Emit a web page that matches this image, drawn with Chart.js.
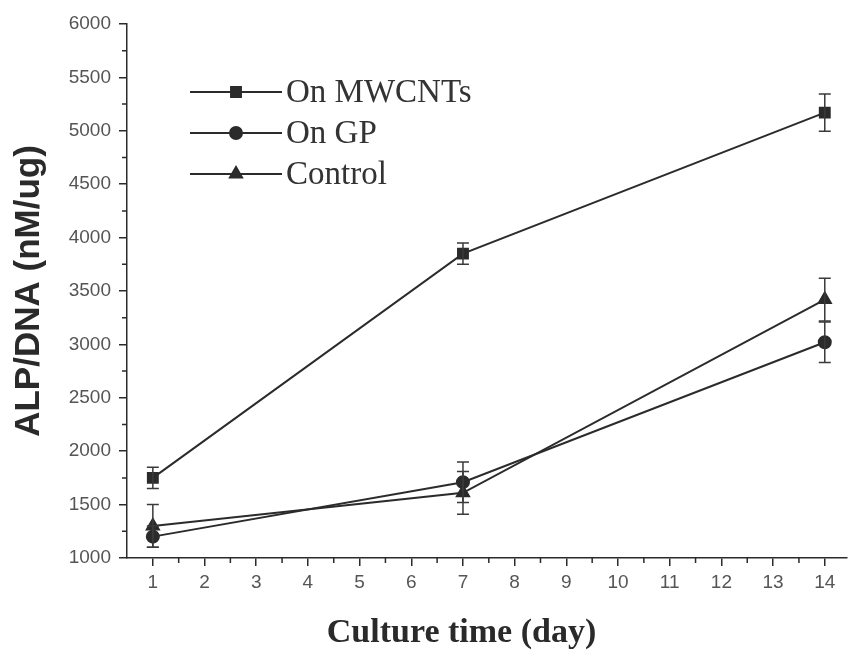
<!DOCTYPE html>
<html>
<head>
<meta charset="utf-8">
<script src="https://cdn.jsdelivr.net/npm/chart.js@4"></script>
<style>
  html, body { margin: 0; padding: 0; background: #fff; }
  #wrap { width: 856px; height: 650px; }
</style>
</head>
<body>
<div id="wrap"><canvas id="chart" width="856" height="650"></canvas></div>
<script>
// ------------------------ Datos ------------------------
const dias = [1, 7, 14];
const seriesNames = ["On MWCNTs", "On GP", "Control"];
const mwcnts = [1750, 3850, 5170];
const mwcntsErr = [100, 100, 175];
const gp = [1200, 1710, 3020];
const gpErr = [100, 190, 190];
const control = [1300, 1610, 3420];
const controlErr = [200, 200, 200];
const xTicks = [1, 2, 3, 4, 5, 6, 7, 8, 9, 10, 11, 12, 13, 14];
const markers = ["rect", "circle", "triangle"];
const markerSize = [7, 6, 7];

const ink = "#2b2b2b";

const toPoints = vals => vals.map((y, i) => ({ x: dias[i], y }));

// ------------------------ Plugins ------------------------
// barras de error
const errorBars = {
  id: "errorBars",
  afterDatasetsDraw(chart) {
    const { ctx, scales: { x, y } } = chart;
    const errs = [mwcntsErr, gpErr, controlErr];
    ctx.save();
    ctx.strokeStyle = "#3a3a3a";
    ctx.lineWidth = 1.5;
    chart.data.datasets.forEach((ds, i) => {
      ds.data.forEach((p, j) => {
        const px = x.getPixelForValue(p.x);
        const top = y.getPixelForValue(p.y + errs[i][j]);
        const bot = y.getPixelForValue(p.y - errs[i][j]);
        ctx.beginPath();
        ctx.moveTo(px, top); ctx.lineTo(px, bot);
        ctx.moveTo(px - 6, top); ctx.lineTo(px + 6, top);
        ctx.moveTo(px - 6, bot); ctx.lineTo(px + 6, bot);
        ctx.stroke();
      });
    });
    ctx.restore();
  }
};

// ticks menores (x cada 0.5, y cada 250)
const minorTicks = {
  id: "minorTicks",
  afterDraw(chart) {
    const { ctx, scales: { x, y } } = chart;
    ctx.save();
    ctx.strokeStyle = ink;
    ctx.lineWidth = 1.5;
    ctx.beginPath();
    for (let v = 1.5; v < 14; v += 1) {
      const px = x.getPixelForValue(v);
      ctx.moveTo(px, y.bottom); ctx.lineTo(px, y.bottom + 5);
    }
    for (let v = 1250; v < 6000; v += 500) {
      const py = y.getPixelForValue(v);
      ctx.moveTo(x.left, py); ctx.lineTo(x.left - 5, py);
    }
    ctx.stroke();
    ctx.restore();
  }
};

// leyenda dentro del área
const insideLegend = {
  id: "insideLegend",
  afterDraw(chart) {
    const { ctx } = chart;
    ctx.save();
    ctx.font = "33px 'Liberation Serif', 'Times New Roman', serif";
    ctx.textBaseline = "middle";
    chart.data.datasets.forEach((ds, i) => {
      const yy = 92 + i * 41;
      ctx.strokeStyle = ink;
      ctx.lineWidth = 2;
      ctx.beginPath();
      ctx.moveTo(190, yy); ctx.lineTo(282, yy);
      ctx.stroke();
      ctx.fillStyle = ink;
      Chart.helpers.drawPoint(ctx, { pointStyle: markers[i], radius: markerSize[i], borderWidth: 1 }, 236, yy);
      ctx.fillStyle = "#333";
      ctx.fillText(seriesNames[i], 286, yy + 1);
    });
    ctx.restore();
  }
};

// ------------------------ Gráfica ------------------------
const mkDataset = (i, vals) => ({
  label: seriesNames[i],
  data: toPoints(vals),
  borderColor: ink,
  backgroundColor: ink,
  borderWidth: 2,
  pointStyle: markers[i],
  pointRadius: markerSize[i],
  pointHoverRadius: markerSize[i],
  tension: 0,
  fill: false
});

const tickFont = { family: "'Liberation Sans', Arial, sans-serif", size: 19 };

new Chart(document.getElementById("chart"), {
  type: "line",
  data: {
    datasets: [mkDataset(0, mwcnts), mkDataset(1, gp), mkDataset(2, control)]
  },
  options: {
    responsive: false,
    animation: false,
    layout: { padding: { left: 0, right: 6, top: 24, bottom: 0 } },
    plugins: { legend: { display: false }, tooltip: { enabled: false } },
    scales: {
      x: {
        type: "linear",
        min: 0.5,
        max: 14.43,
        afterBuildTicks: s => { s.ticks = xTicks.map(v => ({ value: v })); },
        afterFit: s => { s.height = 92; },
        border: { color: ink, width: 1.5 },
        grid: { drawOnChartArea: false, color: ink, lineWidth: 1.5, tickLength: 8 },
        ticks: { color: "#555", padding: 5, font: tickFont, callback: v => String(v) },
        title: {
          display: true,
          // espacios finales para correr el título un poco a la izquierda, como en el original
          text: "Culture time (day)\u00a0\u00a0\u00a0\u00a0\u00a0\u00a0",
          color: "#2a2a2a",
          padding: { top: 0, bottom: 0 },
          font: { family: "'Liberation Serif', 'Times New Roman', serif", size: 34, weight: "bold", lineHeight: 1 }
        }
      },
      y: {
        min: 1000,
        max: 6000,
        ticks: { stepSize: 500, color: "#555", padding: 8, font: tickFont, callback: v => String(v) },
        afterFit: s => { s.width = 127; },
        border: { color: ink, width: 1.5 },
        grid: { drawOnChartArea: false, color: ink, lineWidth: 1.5, tickLength: 8 },
        title: {
          display: true,
          text: "ALP/DNA (nM/ug)",
          color: "#2a2a2a",
          padding: { top: 12, bottom: 0 },
          font: { family: "'Liberation Sans', Arial, sans-serif", size: 35, weight: "bold", lineHeight: 1 }
        }
      }
    }
  },
  plugins: [errorBars, minorTicks, insideLegend]
});
</script>
</body>
</html>
